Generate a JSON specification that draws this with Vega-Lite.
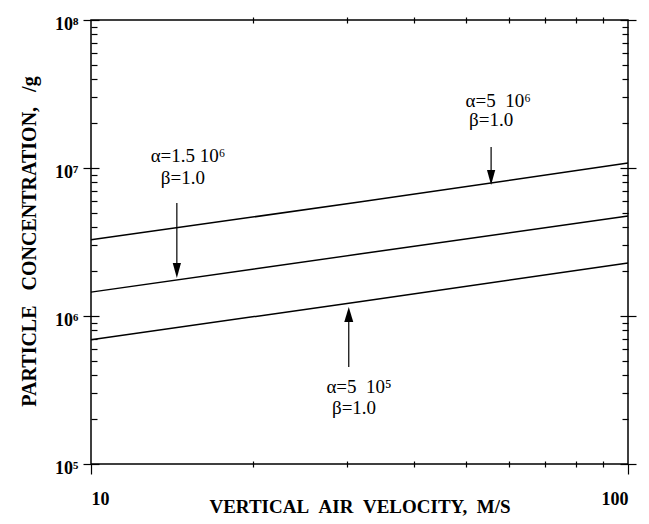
{
  "$schema": "https://vega.github.io/schema/vega-lite/v6.json",
  "width": 537,
  "height": 444,
  "autosize": "none",
  "padding": {"left": 91, "top": 20, "right": 21, "bottom": 60},
  "background": "white",
  "config": {
    "font": "Liberation Serif",
    "text": {"font": "Liberation Serif"},
    "view": {"stroke": "black", "strokeWidth": 1.5},
    "axis": {
      "domain": false,
      "grid": false,
      "tickColor": "black",
      "tickWidth": 1.2,
      "labelColor": "black",
      "titleColor": "black",
      "labelFont": "Liberation Serif",
      "titleFont": "Liberation Serif",
      "labelFontWeight": "bold",
      "titleFontWeight": "bold",
      "labelFontSize": 18,
      "titleFontSize": 19
    }
  },
  "datasets": {
    "lines": [
      {"series": "a5e6", "v": 10, "c": 3270000},
      {"series": "a5e6", "v": 31.6, "c": 5890000},
      {"series": "a5e6", "v": 100, "c": 10800000},
      {"series": "a15e6", "v": 10, "c": 1450000},
      {"series": "a15e6", "v": 31.6, "c": 2620000},
      {"series": "a15e6", "v": 100, "c": 4740000},
      {"series": "a5e5", "v": 10, "c": 690000},
      {"series": "a5e5", "v": 31.6, "c": 1250000},
      {"series": "a5e5", "v": 100, "c": 2280000}
    ],
    "arrows": [
      {"id": "a15e6", "v": 14.45, "start": 5800000, "head": 2030000, "dir": "down"},
      {"id": "a5e6", "v": 55.6, "start": 13870000, "head": 8630000, "dir": "down"},
      {"id": "a5e5", "v": 30.2, "start": 452000, "head": 1023000, "dir": "up"}
    ],
    "labels": [
      {"line": "alpha", "v": 15.16, "c": 10980000, "label": "α=1.5 10⁶"},
      {"line": "beta", "v": 14.83, "c": 7800000, "label": "β=1.0"},
      {"line": "alpha", "v": 57.3, "c": 25800000, "label": "α=5\u00a0\u00a010⁶"},
      {"line": "beta", "v": 55.6, "c": 19220000, "label": "β=1.0"},
      {"line": "alpha", "v": 31.56, "c": 302000, "label": "α=5\u00a0\u00a010⁵"},
      {"line": "beta", "v": 30.89, "c": 218000, "label": "β=1.0"}
    ]
  },
  "resolve": {"axis": {"x": "independent", "y": "independent"}},
  "layer": [
    {
      "data": {"name": "lines"},
      "mark": {"type": "line", "color": "black", "strokeWidth": 1.5},
      "encoding": {
        "x": {
          "field": "v", "type": "quantitative",
          "scale": {"type": "log", "domain": [10, 100], "nice": false},
          "axis": {
            "orient": "bottom", "values": [10, 100], "format": "d",
            "tickSize": 10, "labelPadding": 16,
            "title": "VERTICAL\u00a0\u00a0AIR\u00a0\u00a0VELOCITY,\u00a0\u00a0M/S",
            "titleY": 48, "titleBaseline": "alphabetic"
          }
        },
        "y": {
          "field": "c", "type": "quantitative",
          "scale": {"type": "log", "domain": [100000, 100000000], "nice": false},
          "axis": {
            "orient": "left",
            "values": [100000, 1000000, 10000000, 100000000],
            "labelExpr": "'10' + ['⁵','⁶','⁷','⁸'][round(log(datum.value)/LN10) - 5]",
            "ticks": false, "labelPadding": 13, "labelOffset": 4,
            "title": "PARTICLE\u00a0\u00a0\u00a0CONCENTRATION,\u00a0\u00a0\u00a0/g",
            "titleFontSize": 20,
            "titleX": -56, "titleY": 221, "titleBaseline": "alphabetic"
          }
        },
        "detail": {"field": "series"}
      }
    },
    {
      "data": {"name": "arrows"},
      "mark": {"type": "rule", "color": "black", "strokeWidth": 1.2},
      "encoding": {
        "x": {
          "field": "v", "type": "quantitative",
          "scale": {"type": "log", "domain": [10, 100], "nice": false},
          "axis": {
            "orient": "bottom", "values": [20, 30, 40, 50, 60, 70, 80, 90],
            "offset": -3, "tickSize": 6, "labels": false, "title": null
          }
        },
        "y": {
          "field": "start", "type": "quantitative",
          "scale": {"type": "log", "domain": [100000, 100000000], "nice": false},
          "axis": {
            "orient": "left",
            "values": [100000, 1000000, 10000000, 100000000],
            "offset": -8, "tickSize": 16, "labels": false, "title": null
          }
        },
        "y2": {"field": "head"}
      }
    },
    {
      "data": {"name": "arrows"},
      "mark": {"type": "point", "filled": true, "color": "black", "opacity": 1, "size": 225, "strokeWidth": 0},
      "encoding": {
        "x": {
          "field": "v", "type": "quantitative",
          "scale": {"type": "log", "domain": [10, 100], "nice": false},
          "axis": {
            "orient": "top", "values": [20, 30, 40, 50, 60, 70, 80, 90],
            "offset": -3, "tickSize": 6, "labels": false, "title": null
          }
        },
        "y": {
          "field": "head", "type": "quantitative",
          "scale": {"type": "log", "domain": [100000, 100000000], "nice": false},
          "axis": {
            "orient": "left",
            "values": [200000, 300000, 400000, 500000, 600000, 700000, 800000, 900000,
                       2000000, 3000000, 4000000, 5000000, 6000000, 7000000, 8000000, 9000000,
                       20000000, 30000000, 40000000, 50000000, 60000000, 70000000, 80000000, 90000000],
            "offset": -6, "tickSize": 6, "labels": false, "title": null
          }
        },
        "shape": {
          "field": "dir", "type": "nominal",
          "scale": {"domain": ["down", "up"], "range": ["M-0.55,-1L0.55,-1L0,1Z", "M0,-1L0.6,1L-0.6,1Z"]},
          "legend": null
        }
      }
    },
    {
      "data": {"name": "labels"},
      "transform": [{"filter": "datum.line === 'alpha'"}],
      "mark": {"type": "text", "font": "Liberation Serif", "fontSize": 19, "fontWeight": "normal", "color": "black", "align": "center", "baseline": "alphabetic"},
      "encoding": {
        "x": {
          "field": "v", "type": "quantitative",
          "scale": {"type": "log", "domain": [10, 100], "nice": false},
          "axis": null
        },
        "y": {
          "field": "c", "type": "quantitative",
          "scale": {"type": "log", "domain": [100000, 100000000], "nice": false},
          "axis": {
            "orient": "right",
            "values": [100000, 1000000, 10000000, 100000000],
            "offset": -8, "tickSize": 16, "labels": false, "title": null
          }
        },
        "text": {"field": "label"}
      }
    },
    {
      "data": {"name": "labels"},
      "transform": [{"filter": "datum.line === 'beta'"}],
      "mark": {"type": "text", "font": "Liberation Serif", "fontSize": 19, "fontWeight": "normal", "color": "black", "align": "center", "baseline": "alphabetic"},
      "encoding": {
        "x": {
          "field": "v", "type": "quantitative",
          "scale": {"type": "log", "domain": [10, 100], "nice": false},
          "axis": null
        },
        "y": {
          "field": "c", "type": "quantitative",
          "scale": {"type": "log", "domain": [100000, 100000000], "nice": false},
          "axis": {
            "orient": "right",
            "values": [200000, 300000, 400000, 500000, 600000, 700000, 800000, 900000,
                       2000000, 3000000, 4000000, 5000000, 6000000, 7000000, 8000000, 9000000,
                       20000000, 30000000, 40000000, 50000000, 60000000, 70000000, 80000000, 90000000],
            "offset": -6, "tickSize": 6, "labels": false, "title": null
          }
        },
        "text": {"field": "label"}
      }
    }
  ]
}
